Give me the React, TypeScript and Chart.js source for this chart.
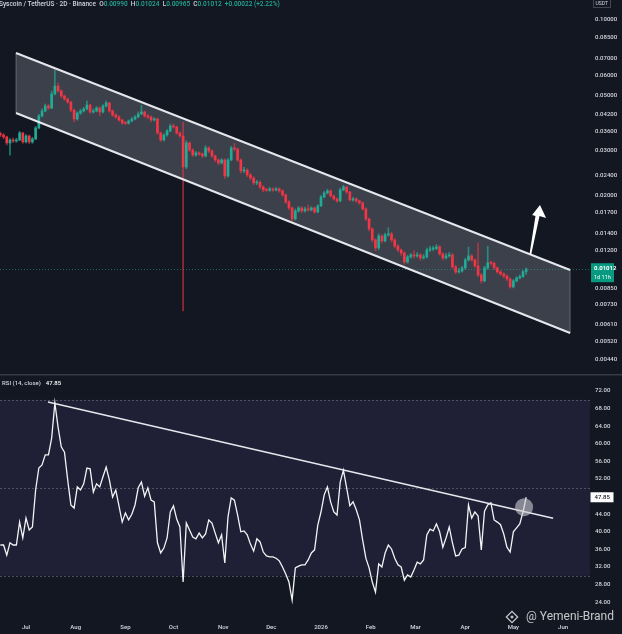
import { useEffect, useRef } from 'react';
import { Chart, registerables } from 'chart.js';

Chart.register(...registerables);

const BG = '#131722';
const UP = '#22ab94';
const DOWN = '#f23645';
const UP_WICK = 'rgba(34,171,148,0.7)';
const DOWN_WICK = 'rgba(242,54,69,0.6)';
const TEXT = '#d6d8de';
const FONT = 'Roboto, "Noto Sans", sans-serif';

// x values are days counted from 2025-07-01 (2D candles)
const firstCandleDay = -16;
const candleStepDays = 2;
const firstOpen = 0.0352;

const closes = [
  0.03476, 0.03413, 0.0323, 0.0332, 0.0329, 0.0332, 0.0354, 0.0326, 0.03444, 0.0326,
  0.03351, 0.03706, 0.04139, 0.04333, 0.04537, 0.04454, 0.05065, 0.05452, 0.05207, 0.04973,
  0.04838, 0.04707, 0.04373, 0.04026, 0.04254, 0.04333, 0.04414, 0.04579, 0.04293, 0.04333,
  0.04454, 0.04293, 0.04537, 0.04664, 0.04333, 0.04177, 0.04101, 0.03989, 0.03881, 0.0387,
  0.03953, 0.04026, 0.04101, 0.04215, 0.04293, 0.04139, 0.04101, 0.03989, 0.04026, 0.0354,
  0.0332, 0.03476, 0.03606, 0.03775, 0.03741, 0.0354, 0.03444, 0.0259, 0.0323, 0.03028,
  0.02892, 0.02946, 0.02919, 0.02866, 0.03085, 0.03, 0.02866, 0.02762, 0.02687, 0.02762,
  0.02385, 0.02762, 0.03085, 0.03057, 0.02762, 0.02497, 0.0252, 0.02407, 0.02342, 0.02236,
  0.0225, 0.02155, 0.02097, 0.0209, 0.02116, 0.02097, 0.02116, 0.02078, 0.02003, 0.01878,
  0.01777, 0.01607, 0.01729, 0.01777, 0.01729, 0.01761, 0.01745, 0.01777, 0.01713, 0.0181,
  0.01967, 0.0204, 0.02078, 0.01985, 0.01931, 0.01896, 0.02097, 0.02155, 0.02059, 0.01913,
  0.01931, 0.01896, 0.01861, 0.01761, 0.01607, 0.01465, 0.01325, 0.01231, 0.01374, 0.01313,
  0.01387, 0.014, 0.01325, 0.01253, 0.01208, 0.01175, 0.01082, 0.01133, 0.01154, 0.01143,
  0.01154, 0.01123, 0.01133, 0.01208, 0.01219, 0.01225, 0.01242, 0.01165, 0.01123, 0.01143,
  0.01154, 0.01034, 0.00987, 0.00996, 0.01024, 0.01102, 0.01143, 0.01102, 0.01043, 0.0096,
  0.00909, 0.01024, 0.01073, 0.01068, 0.01024, 0.00987, 0.00969, 0.00951, 0.00925, 0.0086,
  0.00909, 0.00934, 0.00945, 0.0099, 0.01012,
];

const highs = [
  0.0357, 0.0352, 0.0344, 0.0336, 0.0338, 0.0337, 0.0359, 0.0356, 0.0349, 0.0347,
  0.034, 0.0376, 0.042, 0.0442, 0.0462, 0.046, 0.052, 0.0632, 0.056, 0.0526,
  0.0502, 0.0488, 0.0474, 0.044, 0.043, 0.044, 0.0448, 0.0476, 0.0462, 0.0442,
  0.0451, 0.045, 0.046, 0.0475, 0.047, 0.0438, 0.0423, 0.0415, 0.0402, 0.0393,
  0.0399, 0.0408, 0.0415, 0.043, 0.0456, 0.0433, 0.042, 0.0414, 0.0408, 0.0406,
  0.0357, 0.0351, 0.0365, 0.0383, 0.0385, 0.0377, 0.0358, 0.039, 0.033, 0.0326,
  0.0306, 0.0299, 0.0298, 0.0295, 0.0315, 0.0312, 0.0303, 0.0289, 0.0279, 0.028,
  0.0279, 0.028, 0.0313, 0.0322, 0.0308, 0.0279, 0.0258, 0.0255, 0.0244, 0.0237,
  0.0229, 0.0228, 0.0218, 0.0213, 0.0215, 0.0214, 0.0215, 0.0214, 0.021, 0.0202,
  0.019, 0.0179, 0.0176, 0.018, 0.018, 0.0179, 0.0183, 0.018, 0.0179, 0.0183,
  0.0199, 0.0207, 0.0211, 0.021, 0.02, 0.0195, 0.0213, 0.0219, 0.0217, 0.0207,
  0.0196, 0.0195, 0.0191, 0.0188, 0.0178, 0.0162, 0.0148, 0.0134, 0.014, 0.0139,
  0.0141, 0.0148, 0.0142, 0.0134, 0.0127, 0.0122, 0.0119, 0.0115, 0.0117, 0.012,
  0.0118, 0.0117, 0.0116, 0.0123, 0.0125, 0.0125, 0.0127, 0.0126, 0.0118, 0.0117,
  0.0118, 0.0117, 0.0105, 0.0102, 0.0104, 0.0112, 0.0124, 0.0116, 0.0111, 0.0129,
  0.00975, 0.0104, 0.0125, 0.0109, 0.0108, 0.01035, 0.01, 0.0098, 0.0096, 0.00935,
  0.0092, 0.00945, 0.0096, 0.01, 0.01024,
];

const lows = [
  0.0342, 0.0336, 0.0317, 0.0289, 0.0324, 0.0325, 0.033, 0.0322, 0.0323, 0.0321,
  0.0322, 0.0333, 0.0368, 0.041, 0.043, 0.044, 0.0442, 0.0502, 0.0515, 0.049,
  0.0478, 0.0465, 0.043, 0.0392, 0.0398, 0.042, 0.0429, 0.0438, 0.0424, 0.0425,
  0.043, 0.0415, 0.0426, 0.045, 0.0428, 0.0412, 0.0405, 0.0394, 0.0383, 0.0382,
  0.0384, 0.0392, 0.0399, 0.0407, 0.0419, 0.0409, 0.0404, 0.0393, 0.0395, 0.035,
  0.0327, 0.0329, 0.0344, 0.0358, 0.037, 0.035, 0.034, 0.0069, 0.0255, 0.0298,
  0.0285, 0.0286, 0.0288, 0.0282, 0.0284, 0.0295, 0.0282, 0.0272, 0.0264, 0.0266,
  0.0233, 0.0236, 0.0274, 0.03, 0.0272, 0.0245, 0.0246, 0.0237, 0.023, 0.022,
  0.022, 0.0212, 0.0206, 0.0206, 0.0207, 0.0207, 0.0208, 0.0205, 0.0198, 0.0185,
  0.0175, 0.0158, 0.0159, 0.0171, 0.017, 0.0171, 0.0172, 0.0173, 0.0169, 0.017,
  0.018, 0.0195, 0.0202, 0.0196, 0.0191, 0.0187, 0.0188, 0.0208, 0.0203, 0.0189,
  0.0189, 0.0187, 0.0184, 0.0174, 0.0158, 0.0144, 0.013, 0.012, 0.0121, 0.0129,
  0.013, 0.0137, 0.013, 0.0123, 0.0119, 0.0115, 0.0106, 0.0107, 0.0112, 0.0112,
  0.0113, 0.011, 0.0111, 0.0112, 0.0119, 0.012, 0.0121, 0.0115, 0.011, 0.0111,
  0.0113, 0.0102, 0.0097, 0.00975, 0.00985, 0.0101, 0.0109, 0.0109, 0.0103, 0.00945,
  0.0089, 0.009, 0.0101, 0.0105, 0.0101, 0.00975, 0.00955, 0.00935, 0.0091, 0.0085,
  0.00852, 0.009, 0.00925, 0.00938, 0.00965,
];

const rsiValues = [
  37.0, 37.0, 34.7, 37.5, 37.0, 37.0, 42.2, 38.6, 43.1, 40.4,
  41.1, 49.5, 54.5, 55.2, 57.5, 57.5, 61.3, 69.3, 63.8, 59.3,
  58.1, 51.8, 46.1, 45.4, 50.2, 49.5, 50.9, 54.5, 54.3, 49.0,
  50.9, 50.2, 52.5, 54.7, 51.8, 47.9, 49.5, 45.9, 42.2, 44.3,
  42.7, 44.0, 46.1, 50.0, 51.3, 48.1, 50.0, 47.2, 46.8, 37.5,
  35.2, 36.3, 38.6, 44.5, 45.9, 42.9, 41.1, 28.6, 42.0, 40.4,
  38.8, 38.4, 39.7, 38.6, 39.5, 42.7, 42.0, 39.7, 37.5, 39.3,
  32.9, 43.4, 47.7, 47.2, 43.8, 40.0, 40.2, 39.3, 37.2, 35.6,
  38.4, 37.7, 35.4, 34.5, 34.3, 34.3, 34.0, 33.4, 32.0, 30.4,
  28.6, 24.5, 31.8, 32.2, 32.5, 32.5, 33.6, 35.2, 35.9, 41.5,
  44.5, 48.4, 50.2, 46.8, 44.5, 43.8, 51.3, 54.0, 50.0, 45.9,
  46.8, 45.0, 42.7, 38.1, 34.0, 31.8, 28.6, 26.3, 32.7, 32.0,
  35.2, 37.0, 36.1, 34.0, 32.5, 32.0, 29.0, 30.2, 29.7, 31.3,
  33.1, 32.7, 33.6, 39.3, 40.6, 40.2, 41.8, 40.0, 36.5, 38.6,
  41.1, 37.5, 34.5, 34.7, 36.1, 36.4, 46.1, 43.1, 44.5, 43.6,
  35.9, 44.7, 46.1, 46.6, 42.7, 42.2, 41.6, 39.5, 36.5, 35.4,
  40.0, 40.9, 41.8, 44.5, 47.85,
];

const monthDays = [0, 31, 62, 92, 123, 153, 184, 215, 243, 274, 304, 335];
const monthLabels = ['Jul', 'Aug', 'Sep', 'Oct', 'Nov', 'Dec', '2026', 'Feb', 'Mar', 'Apr', 'May', 'Jun'];
const priceTicks = [0.1, 0.085, 0.07, 0.06, 0.05, 0.042, 0.036, 0.03, 0.024, 0.02, 0.017, 0.014, 0.012, 0.0085, 0.0073, 0.0061, 0.0052, 0.0044];
const rsiTicks = [72, 68, 64, 60, 56, 52, 44, 40, 36, 32, 28, 24];

const xRange = { min: -16.22, max: 351.8 };
const priceRange = { min: 0.0038625, max: 0.120181 };
const rsiRange = { min: 21.7727, max: 75.8636 };

// drawings, in data coordinates (day, price) / (day, rsi)
const channelTop = [{ x: -6.24, y: 0.07384 }, { x: 339.4, y: 0.01005 }];
const channelBottom = [{ x: -6.24, y: 0.04254 }, { x: 339.4, y: 0.00563 }];
const arrowShape = [
  { x: 320.6, y: 0.01826 },
  { x: 324.4, y: 0.0162 },
  { x: 320.3, y: 0.01651 },
  { x: 315.2, y: 0.01164 },
  { x: 314.1, y: 0.01164 },
  { x: 317.8, y: 0.01651 },
  { x: 315.7, y: 0.01666 },
];
const rsiTrendline = [{ x: 13.7, y: 69.5 }, { x: 328.8, y: 43.1 }];
const rsiMarker = { x: 310.7, y: 45.6 };
const rsiBands = { upper: 70, middle: 50, lower: 30 };

const days = closes.map((_, i) => firstCandleDay + candleStepDays * i);
const opens = closes.map((_, i) => (i === 0 ? firstOpen : closes[i - 1]));
const isUp = closes.map((c, i) => c >= opens[i]);
const candleColors = isUp.map((u) => (u ? UP : DOWN));
const wickColors = isUp.map((u) => (u ? UP_WICK : DOWN_WICK));
const bodyData = closes.map((c, i) => ({ x: days[i], y: [opens[i], c] }));
const wickData = closes.map((_, i) => ({ x: days[i], y: [lows[i], highs[i]] }));
const rsiData = rsiValues.map((v, i) => ({ x: days[i], y: v }));

const lastIdx = closes.length - 1;
const lastPrice = closes[lastIdx];
const lastRsi = rsiValues[lastIdx];

const fmt5 = (v: number) => v.toFixed(5);

const topPlugin = {
  id: 'topDecor',
  beforeDatasetsDraw(chart: any) {
    const { ctx, chartArea, scales } = chart;
    const x = scales.x;
    const y = scales.y;
    const px = (p: any) => [x.getPixelForValue(p.x), y.getPixelForValue(p.y)];
    const pts = [px(channelTop[0]), px(channelTop[1]), px(channelBottom[1]), px(channelBottom[0])];
    ctx.save();
    ctx.beginPath();
    ctx.moveTo(pts[0][0], pts[0][1]);
    for (let i = 1; i < pts.length; i++) ctx.lineTo(pts[i][0], pts[i][1]);
    ctx.closePath();
    ctx.fillStyle = 'rgba(215,218,232,0.21)';
    ctx.fill();
    ctx.strokeStyle = 'rgba(200,202,212,0.35)';
    ctx.lineWidth = 1;
    ctx.stroke();
    // last price dotted line
    const ly = Math.round(y.getPixelForValue(lastPrice)) + 0.5;
    ctx.setLineDash([1, 2]);
    ctx.strokeStyle = 'rgba(34,171,148,0.55)';
    ctx.beginPath();
    ctx.moveTo(chartArea.left, ly);
    ctx.lineTo(chartArea.right, ly);
    ctx.stroke();
    ctx.restore();
  },
  afterDatasetsDraw(chart: any) {
    const { ctx, chartArea, scales } = chart;
    const x = scales.x;
    const y = scales.y;
    const px = (p: any) => [x.getPixelForValue(p.x), y.getPixelForValue(p.y)];
    ctx.save();
    // channel borders
    ctx.strokeStyle = '#e6e7ec';
    ctx.lineWidth = 2;
    for (const line of [channelTop, channelBottom]) {
      const a = px(line[0]);
      const b = px(line[1]);
      ctx.beginPath();
      ctx.moveTo(a[0], a[1]);
      ctx.lineTo(b[0], b[1]);
      ctx.stroke();
    }
    // arrow
    ctx.beginPath();
    arrowShape.forEach((p, i) => {
      const q = px(p);
      if (i === 0) ctx.moveTo(q[0], q[1]);
      else ctx.lineTo(q[0], q[1]);
    });
    ctx.closePath();
    ctx.fillStyle = '#ffffff';
    ctx.fill();
    // header
    const o = opens[lastIdx];
    const c = closes[lastIdx];
    const chg = c - o;
    const parts: [string, string][] = [
      ['Syscoin / TetherUS · 2D · Binance', '#d1d4dc'],
      ['  O', '#d1d4dc'], [fmt5(o), UP],
      ['  H', '#d1d4dc'], [fmt5(highs[lastIdx]), UP],
      ['  L', '#d1d4dc'], [fmt5(lows[lastIdx]), UP],
      ['  C', '#d1d4dc'], [fmt5(c), UP],
      ['  +' + fmt5(chg) + ' (+' + ((chg / o) * 100).toFixed(2) + '%)', UP],
    ];
    ctx.font = `500 6.5px ${FONT}`;
    ctx.textBaseline = 'middle';
    ctx.textAlign = 'left';
    let hx = -1;
    for (const [t, col] of parts) {
      ctx.fillStyle = col;
      ctx.fillText(t, hx, 4);
      hx += ctx.measureText(t).width;
    }
    // USDT box
    ctx.strokeStyle = '#434651';
    ctx.lineWidth = 1;
    ctx.strokeRect(593.5, -1, 17, 8.5);
    ctx.fillStyle = TEXT;
    ctx.font = `5px ${FONT}`;
    ctx.fillText('USDT', 595.5, 3.5);
    // last price label
    const py = y.getPixelForValue(lastPrice);
    ctx.fillStyle = '#089981';
    ctx.fillRect(chartArea.right + 1, py - 6, 23, 19);
    ctx.fillStyle = '#ffffff';
    ctx.font = `bold 6px ${FONT}`;
    ctx.fillText(fmt5(lastPrice), chartArea.right + 4, py - 0.5);
    ctx.font = `5.5px ${FONT}`;
    ctx.fillText('1d 11h', chartArea.right + 4, py + 8);
    ctx.restore();
  },
};

const rsiPlugin = {
  id: 'rsiDecor',
  beforeDatasetsDraw(chart: any) {
    const { ctx, chartArea, scales, width } = chart;
    const y = scales.y;
    const y70 = y.getPixelForValue(rsiBands.upper);
    const y30 = y.getPixelForValue(rsiBands.lower);
    const y50 = y.getPixelForValue(rsiBands.middle);
    ctx.save();
    ctx.fillStyle = 'rgba(126,87,194,0.12)';
    ctx.fillRect(chartArea.left, y70, chartArea.right - chartArea.left, y30 - y70);
    ctx.setLineDash([2, 2]);
    ctx.strokeStyle = 'rgba(120,123,134,0.55)';
    ctx.lineWidth = 1;
    for (const yy of [y70, y50, y30]) {
      ctx.beginPath();
      ctx.moveTo(chartArea.left, Math.round(yy) + 0.5);
      ctx.lineTo(chartArea.right, Math.round(yy) + 0.5);
      ctx.stroke();
    }
    ctx.setLineDash([]);
    // separator between panes
    ctx.fillStyle = '#363a45';
    ctx.fillRect(0, 0, width, 1.5);
    // title
    ctx.font = `500 6px ${FONT}`;
    ctx.textBaseline = 'middle';
    ctx.textAlign = 'left';
    ctx.fillStyle = '#d1d4dc';
    const t = 'RSI (14, close)';
    ctx.fillText(t, 2, 9);
    ctx.fillStyle = '#ffffff';
    ctx.fillText(lastRsi.toFixed(2), 2 + ctx.measureText(t).width + 5, 9);
    ctx.restore();
  },
  afterDatasetsDraw(chart: any) {
    const { ctx, chartArea, scales } = chart;
    const x = scales.x;
    const y = scales.y;
    ctx.save();
    // marker circle
    ctx.beginPath();
    ctx.arc(x.getPixelForValue(rsiMarker.x), y.getPixelForValue(rsiMarker.y), 9, 0, Math.PI * 2);
    ctx.fillStyle = 'rgba(205,205,212,0.6)';
    ctx.fill();
    // value box
    const vy = y.getPixelForValue(lastRsi);
    ctx.fillStyle = '#ffffff';
    ctx.fillRect(chartArea.right + 0.5, vy - 5, 23, 10);
    ctx.fillStyle = '#131722';
    ctx.font = `500 6px ${FONT}`;
    ctx.textBaseline = 'middle';
    ctx.textAlign = 'left';
    ctx.fillText(lastRsi.toFixed(2), chartArea.right + 4.5, vy + 0.5);
    // watermark
    ctx.fillStyle = 'rgba(228,228,232,0.85)';
    ctx.font = `12px ${FONT}`;
    ctx.textAlign = 'right';
    ctx.fillText('@ Yemeni-Brand', 614, 243);
    // Binance-like logo
    ctx.translate(512, 243);
    ctx.rotate(Math.PI / 4);
    ctx.strokeStyle = 'rgba(228,228,232,0.85)';
    ctx.lineWidth = 1.3;
    ctx.strokeRect(-4, -4, 8, 8);
    ctx.fillStyle = 'rgba(228,228,232,0.85)';
    ctx.fillRect(-1.3, -1.3, 2.6, 2.6);
    ctx.restore();
  },
};

export default function App() {
  const topRef = useRef<HTMLCanvasElement>(null);
  const rsiRef = useRef<HTMLCanvasElement>(null);

  useEffect(() => {
    document.body.style.margin = '0';
    document.body.style.background = BG;
    const tickFont = { size: 6, family: FONT, weight: '500' };

    const top = new Chart(topRef.current as HTMLCanvasElement, {
      type: 'bar',
      data: {
        datasets: [
          {
            type: 'bar',
            data: bodyData as any,
            backgroundColor: candleColors,
            barThickness: 2,
            grouped: false,
            order: 0,
            minBarLength: 1,
          } as any,
          {
            type: 'bar',
            data: wickData as any,
            backgroundColor: wickColors,
            barThickness: 1,
            grouped: false,
            order: 1,
          } as any,
        ],
      },
      options: {
        responsive: false,
        animation: false,
        events: [],
        layout: { padding: 0 },
        plugins: { legend: { display: false }, tooltip: { enabled: false } },
        scales: {
          x: { type: 'linear', min: xRange.min, max: xRange.max, offset: false, display: false },
          y: {
            type: 'logarithmic',
            position: 'right',
            min: priceRange.min,
            max: priceRange.max,
            bounds: 'data',
            grid: { display: false, drawTicks: false },
            border: { display: false },
            ticks: {
              font: tickFont,
              color: TEXT,
              padding: 5,
              autoSkip: false,
              callback: (v: any) => Number(v).toFixed(5),
            },
            afterBuildTicks: (s: any) => {
              s.ticks = priceTicks.map((v) => ({ value: v }));
            },
            afterFit: (s: any) => {
              s.width = 32;
              s.paddingTop = 0;
              s.paddingBottom = 0;
            },
          } as any,
        },
      },
      plugins: [topPlugin],
    } as any);

    const rsi = new Chart(rsiRef.current as HTMLCanvasElement, {
      type: 'line',
      data: {
        datasets: [
          { data: rsiData as any, borderColor: '#f4f4f6', borderWidth: 1.3, pointRadius: 0, tension: 0 },
          { data: rsiTrendline as any, borderColor: '#e6e7ec', borderWidth: 1.6, pointRadius: 0, tension: 0 },
        ],
      },
      options: {
        responsive: false,
        animation: false,
        events: [],
        layout: { padding: 0 },
        plugins: { legend: { display: false }, tooltip: { enabled: false } },
        scales: {
          x: {
            type: 'linear',
            min: xRange.min,
            max: xRange.max,
            offset: false,
            grid: { display: false, drawTicks: false },
            border: { display: false },
            ticks: {
              font: tickFont,
              color: TEXT,
              padding: 12,
              autoSkip: false,
              maxRotation: 0,
              callback: (v: any) => monthLabels[monthDays.indexOf(Number(v))] ?? '',
            },
            afterBuildTicks: (s: any) => {
              s.ticks = monthDays.map((v) => ({ value: v }));
            },
            afterFit: (s: any) => {
              s.height = 22;
              s.paddingLeft = 0;
              s.paddingRight = 0;
            },
          } as any,
          y: {
            type: 'linear',
            position: 'right',
            min: rsiRange.min,
            max: rsiRange.max,
            grid: { display: false, drawTicks: false },
            border: { display: false },
            ticks: {
              font: tickFont,
              color: TEXT,
              padding: 5,
              autoSkip: false,
              callback: (v: any) => Number(v).toFixed(2),
            },
            afterBuildTicks: (s: any) => {
              s.ticks = rsiTicks.map((v) => ({ value: v }));
            },
            afterFit: (s: any) => {
              s.width = 32;
              s.paddingTop = 0;
              s.paddingBottom = 0;
            },
          } as any,
        },
      },
      plugins: [rsiPlugin],
    } as any);

    return () => {
      top.destroy();
      rsi.destroy();
    };
  }, []);

  return (
    <div style={{ position: 'absolute', left: 0, top: 0, width: 622, height: 634, background: BG, overflow: 'hidden' }}>
      <canvas ref={topRef} width={622} height={374} style={{ display: 'block' }} />
      <canvas ref={rsiRef} width={622} height={260} style={{ display: 'block' }} />
    </div>
  );
}
